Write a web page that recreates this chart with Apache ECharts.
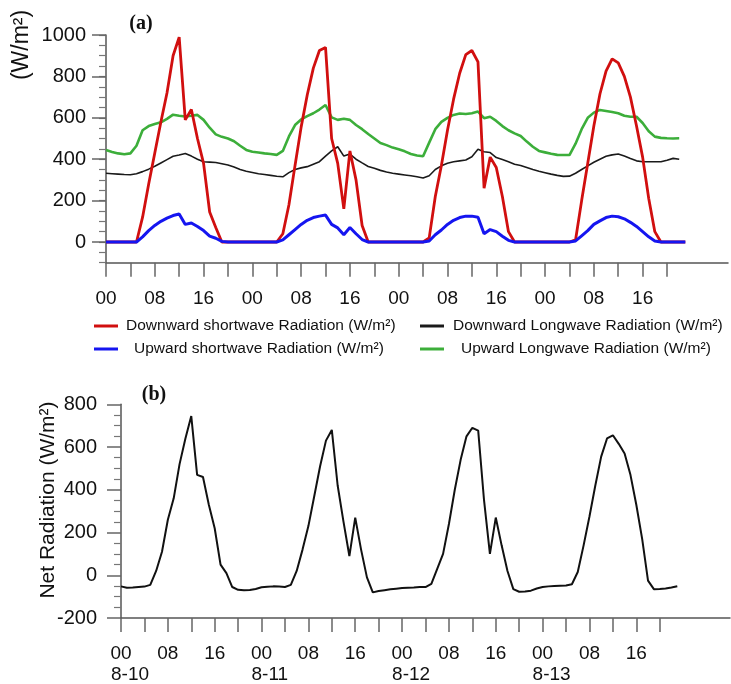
<!DOCTYPE html>
<html><head><meta charset="utf-8">
<script src="https://cdn.jsdelivr.net/npm/echarts@6/dist/echarts.min.js"></script>
<style>html,body{margin:0;padding:0;background:#fff}#c{width:731px;height:684px}</style>
</head><body><div id="c"></div>
<script>
// ---- tick labels ----
const hourTickLabels = ['00', '08', '16'];
const dateLabels = ['8-10', '8-11', '8-12', '8-13'];
const topAxisHours = 102;   // length of top x axis (hours)
const botAxisHours = 104;   // length of bottom x axis (hours)

// ---- series names ----
const nameDSW = 'Downward shortwave Radiation (W/m²)';
const nameUSW = 'Upward shortwave Radiation (W/m²)';
const nameDLW = 'Downward Longwave Radiation (W/m²)';
const nameULW = 'Upward Longwave Radiation (W/m²)';

// ---- hourly values, hour 0 = 8-10 00:00 ----
const downShortwave = [
  0,0,0,0,0,0,120,280,430,580,720,900,990,590,640,500,380,145,70,0,0,0,0,0,
  0,0,0,0,0,40,180,370,555,710,840,925,940,500,380,160,440,300,80,0,0,0,0,0,
  0,0,0,0,0,20,220,370,540,690,815,905,925,870,260,410,360,220,50,0,0,0,0,0,
  0,0,0,0,0,10,200,380,560,715,825,885,865,800,700,560,410,210,50,0,0,0,0,0
];
const upShortwave = [
  0,0,0,0,0,0,25,55,80,100,115,128,135,85,92,75,55,28,18,3,0,0,0,0,
  0,0,0,0,0,10,35,60,85,105,118,125,130,85,68,35,70,40,12,0,0,0,0,0,
  0,0,0,0,0,5,35,58,85,105,118,125,125,120,40,60,50,28,8,0,0,0,0,0,
  0,0,0,0,0,5,30,55,85,102,118,125,122,112,95,75,50,25,5,0,0,0,0,0
];
const downLongwave = [
  332,330,328,326,325,330,340,352,366,382,398,414,420,428,415,400,388,386,384,378,372,362,350,342,
  336,330,326,322,318,315,335,350,358,364,376,388,415,440,460,415,425,400,382,365,356,346,338,332,
  328,324,320,315,309,320,350,368,380,388,392,396,412,448,436,432,408,398,388,376,370,360,350,342,
  335,328,322,317,318,332,350,368,385,400,414,421,425,415,403,392,388,388,388,388,395,404,400
];
const upLongwave = [
  444,435,428,424,428,465,540,560,570,578,595,615,610,606,610,614,590,552,520,508,500,487,465,445,
  436,432,428,425,421,440,510,565,592,608,622,640,662,602,590,595,590,565,545,522,500,478,468,456,
  448,438,425,418,414,480,545,580,600,614,621,618,622,630,598,605,585,560,540,525,512,485,460,440,
  433,426,421,420,420,475,545,600,625,638,633,628,622,610,605,605,575,535,509,503,501,500,501
];
const netRadiation = [
  -52,-58,-57,-55,-53,-45,20,110,260,360,520,640,745,470,460,330,220,50,10,-55,-68,-70,-69,-64,
  -56,-54,-52,-53,-55,-45,20,120,230,370,510,630,680,420,250,90,270,120,-10,-80,-74,-70,-66,-63,
  -60,-58,-57,-55,-55,-40,30,100,240,400,540,650,690,677,350,100,270,140,20,-65,-77,-76,-72,-62,
  -55,-52,-50,-49,-48,-42,15,140,275,420,555,640,655,615,570,470,330,170,-25,-65,-64,-62,-57,-51
];

const topHours = []; for (let i = 0; i <= topAxisHours; i++) topHours.push(String(i));
const botHours = []; for (let i = 0; i <= botAxisHours; i++) botHours.push(String(i));

const FONT = '"Liberation Sans", Arial, sans-serif';
const AX = '#555';
const tickFn = (i) => i % 4 === 0 && i <= 92;
const labFn = (i) => i % 8 === 0 && i <= 88;
const hourLabel = (n) => (n % 8 === 0 && n <= 88) ? hourTickLabels[(n % 24) / 8] : '';

const chart = echarts.init(document.getElementById('c'), null, {renderer: 'canvas'});
const legendCommon = {
  orient: 'horizontal', icon: 'rect', itemWidth: 24, itemHeight: 3, padding: 0,
  selectedMode: false,
  textStyle: {fontFamily: FONT, fontSize: 15.5, color: '#111'}
};
const legText = (pad) => Object.assign({}, legendCommon.textStyle, {padding: [0, 0, 0, pad]});
chart.setOption({
  animation: false,
  backgroundColor: '#fff',
  textStyle: {fontFamily: FONT},
  grid: [
    {left: 106, top: 35, width: 622, height: 227.7},
    {left: 106, top: 35, width: 622, height: 207},
    {left: 121, top: 404.3, width: 609, height: 218.4}
  ],
  legend: [
    Object.assign({}, legendCommon, {data: [nameDSW], left: 94, top: 318, textStyle: legText(3)}),
    Object.assign({}, legendCommon, {data: [nameUSW], left: 94, top: 341, textStyle: legText(11)}),
    Object.assign({}, legendCommon, {data: [nameDLW], left: 420, top: 318, textStyle: legText(4)}),
    Object.assign({}, legendCommon, {data: [nameULW], left: 420, top: 341, textStyle: legText(12)})
  ],
  xAxis: [
    {
      gridIndex: 0, type: 'category', data: topHours, boundaryGap: false,
      axisLine: {onZero: false, lineStyle: {color: AX, width: 1.5}},
      axisTick: {interval: tickFn, length: 14, lineStyle: {color: '#666', width: 1.5}},
      axisLabel: {
        interval: labFn,
        formatter: (v) => hourLabel(Number(v)),
        fontSize: 19, color: '#111', margin: 27, fontFamily: FONT
      },
      splitLine: {show: false}
    },
    {gridIndex: 1, type: 'category', data: topHours, boundaryGap: false, show: false},
    {
      gridIndex: 2, type: 'category', data: botHours, boundaryGap: false,
      axisLine: {onZero: false, lineStyle: {color: AX, width: 1.5}},
      axisTick: {interval: tickFn, length: 14, lineStyle: {color: '#666', width: 1.5}},
      axisLabel: {
        interval: labFn,
        formatter: (v) => {
          const n = Number(v), h = n % 24;
          const t = hourLabel(n);
          if (!t) return '';
          const s = '{a|' + t + '}';
          return h === 0 ? s + '\n{d|' + dateLabels[Math.floor(n / 24)] + '}' : s;
        },
        margin: 25,
        rich: {
          a: {fontSize: 19, width: 20, align: 'center', lineHeight: 21, color: '#111', fontFamily: FONT},
          d: {fontSize: 19, width: 20, align: 'left', lineHeight: 21, color: '#111', fontFamily: FONT}
        }
      },
      splitLine: {show: false}
    }
  ],
  yAxis: [
    {
      gridIndex: 0, type: 'value', min: -100, max: 1000, interval: 50,
      axisLine: {show: true, onZero: false, lineStyle: {color: AX, width: 1.5}},
      axisTick: {show: true, length: 7, lineStyle: {color: '#777', width: 1.2}},
      axisLabel: {show: false}, splitLine: {show: false}
    },
    {
      gridIndex: 1, type: 'value', min: 0, max: 1000, interval: 200,
      axisLine: {show: false, onZero: false},
      axisTick: {show: true, length: 14, lineStyle: {color: '#666', width: 1.5}},
      axisLabel: {fontSize: 20, color: '#111', margin: 20, fontFamily: FONT, formatter: (v) => String(v)},
      splitLine: {show: false}
    },
    {
      gridIndex: 2, type: 'value', min: -200, max: 800, interval: 200,
      axisLine: {show: true, onZero: false, lineStyle: {color: AX, width: 1.5}},
      axisTick: {show: true, length: 14, lineStyle: {color: '#666', width: 1.5}},
      minorTick: {show: true, splitNumber: 4, length: 7, lineStyle: {color: '#777', width: 1.2}},
      axisLabel: {fontSize: 20, color: '#111', margin: 24, fontFamily: FONT, formatter: (v) => String(v)},
      splitLine: {show: false}, minorSplitLine: {show: false}
    }
  ],
  series: [
    {name: nameDLW, type: 'line', xAxisIndex: 0, yAxisIndex: 0, data: downLongwave, showSymbol: false,
     color: '#1a1a1a', lineStyle: {width: 1.6, color: '#1a1a1a'}},
    {name: nameULW, type: 'line', xAxisIndex: 0, yAxisIndex: 0, data: upLongwave, showSymbol: false,
     color: '#3cae3a', lineStyle: {width: 2.6, color: '#3cae3a'}},
    {name: nameDSW, type: 'line', xAxisIndex: 0, yAxisIndex: 0, data: downShortwave, showSymbol: false,
     color: '#d10f0f', lineStyle: {width: 2.8, color: '#d10f0f'}},
    {name: nameUSW, type: 'line', xAxisIndex: 0, yAxisIndex: 0, data: upShortwave, showSymbol: false,
     color: '#1515f0', lineStyle: {width: 3, color: '#1515f0'}},
    {name: 'Net Radiation', type: 'line', xAxisIndex: 2, yAxisIndex: 2, data: netRadiation, showSymbol: false,
     color: '#111', lineStyle: {width: 2, color: '#111'}}
  ],
  graphic: [
    {type: 'text', x: 141, y: 24, style: {text: '(a)', fontFamily: '"Liberation Serif", serif', fontWeight: 'bold', fontSize: 20, fill: '#111', align: 'center', verticalAlign: 'middle'}},
    {type: 'text', x: 154, y: 395, style: {text: '(b)', fontFamily: '"Liberation Serif", serif', fontWeight: 'bold', fontSize: 20, fill: '#111', align: 'center', verticalAlign: 'middle'}},
    {type: 'text', x: 22, y: 45, rotation: Math.PI / 2, style: {text: '(W/m²)', fontFamily: FONT, fontSize: 23, fill: '#111', align: 'center', verticalAlign: 'middle'}},
    {type: 'text', x: 48, y: 500, rotation: Math.PI / 2, style: {text: 'Net Radiation (W/m²)', fontFamily: FONT, fontSize: 21, fill: '#111', align: 'center', verticalAlign: 'middle'}}
  ]
});
</script>
</body></html>
